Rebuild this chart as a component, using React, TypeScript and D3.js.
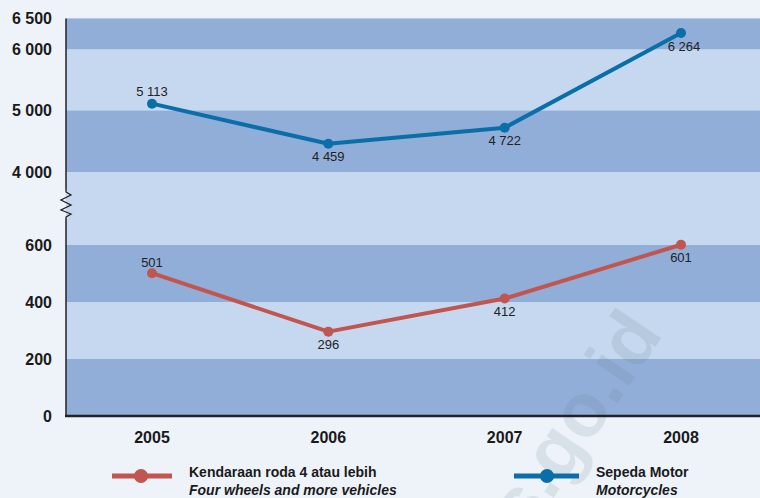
import React from "react";
import * as d3 from "d3";

const years = ["2005", "2006", "2007", "2008"];
const motorcycles = [5113, 4459, 4722, 6264];
const fourWheels = [501, 296, 412, 601];
const upperTicks = [4000, 5000, 6000, 6500];
const lowerTicks = [0, 200, 400, 600];
const upperBands = [[4000, 5000], [6000, 6500]];
const lowerBands = [[0, 200], [400, 600]];
const motorLabelPos = ["above", "below", "below", "below"];
const carLabelPos = ["above", "below", "below", "below"];

const W = 760, H = 498;
const BG = "#eef3fa";
const DARK = "#91aed8";
const LIGHT = "#c6d8ef";
const RED = "#c0564f";
const BLUE = "#0a6ea8";

const fmt = (v: number) => {
  const s = String(v);
  return s.length > 3 ? s.slice(0, s.length - 3) + " " + s.slice(-3) : s;
};

export default function App() {
  const left = 66, right = 760;
  const x = d3.scalePoint<string>().domain(years).range([152, 681]);
  const yU = d3.scaleLinear().domain([4000, 6500]).range([172, 18.5]);
  const yL = d3.scaleLinear().domain([0, 600]).range([416, 245]);

  const line = d3.line<[number, number]>().x(d => d[0]).y(d => d[1]);
  const motorPts: [number, number][] = motorcycles.map((v, i) => [x(years[i])!, yU(v)]);
  const carPts: [number, number][] = fourWheels.map((v, i) => [x(years[i])!, yL(v)]);

  const zig = "M66,190 L66,192 L71,195 L61,200 L71,205 L61,210 L71,214 L66,217 L66,219";

  return (
    <svg width={W} height={H} style={{ position: "absolute", left: 0, top: 0, background: BG }}
      fontFamily="'Liberation Sans', Arial, sans-serif">
      <defs>
        <clipPath id="pageClip"><rect x={0} y={0} width={W} height={H} /></clipPath>
      </defs>
      <rect x={0} y={0} width={W} height={H} fill={BG} />
      {/* plot background */}
      <rect x={left} y={yU(6500)} width={right - left} height={yL(0) - yU(6500)} fill={LIGHT} />
      {upperBands.map((b, i) => (
        <rect key={"ub" + i} x={left} y={yU(b[1])} width={right - left} height={yU(b[0]) - yU(b[1])} fill={DARK} />
      ))}
      {lowerBands.map((b, i) => (
        <rect key={"lb" + i} x={left} y={yL(b[1])} width={right - left} height={yL(b[0]) - yL(b[1])} fill={DARK} />
      ))}
      {/* watermark */}
      <g clipPath="url(#pageClip)">
        <text transform="translate(664,334) rotate(-56)" textAnchor="end" fontSize={76} fontWeight="bold"
          fill="#6b7a90" fillOpacity={0.16}>bps.go.id</text>
      </g>
      {/* axes */}
      <line x1={left} x2={left} y1={yU(6500)} y2={190} stroke="#222" strokeWidth={1.5} />
      <path d={zig} fill="none" stroke="#222" strokeWidth={1.3} />
      <line x1={left} x2={left} y1={219} y2={yL(0)} stroke="#222" strokeWidth={1.5} />
      <line x1={left - 1} x2={right} y1={yL(0)} y2={yL(0)} stroke="#222" strokeWidth={2.5} />
      {upperTicks.map(t => (
        <text key={"u" + t} x={52} y={yU(t)} dy="0.35em" textAnchor="end" fontSize={16} fontWeight="bold" fill="#1a1a1a">{fmt(t)}</text>
      ))}
      {lowerTicks.map(t => (
        <text key={"l" + t} x={52} y={yL(t)} dy="0.35em" textAnchor="end" fontSize={16} fontWeight="bold" fill="#1a1a1a">{fmt(t)}</text>
      ))}
      {years.map(yr => (
        <text key={yr} x={x(yr)} y={437} dy="0.35em" textAnchor="middle" fontSize={16} fontWeight="bold" fill="#1a1a1a">{yr}</text>
      ))}
      {/* lines */}
      <path d={line(motorPts)!} fill="none" stroke={BLUE} strokeWidth={4} strokeLinejoin="round" />
      <path d={line(carPts)!} fill="none" stroke={RED} strokeWidth={4} strokeLinejoin="round" />
      {motorPts.map((p, i) => <circle key={"mc" + i} cx={p[0]} cy={p[1]} r={5} fill={BLUE} />)}
      {carPts.map((p, i) => <circle key={"cc" + i} cx={p[0]} cy={p[1]} r={5} fill={RED} />)}
      {motorPts.map((p, i) => (
        <text key={"ml" + i} x={p[0] + (i === 3 ? 3 : 0)} y={motorLabelPos[i] === "above" ? p[1] - 12 : p[1] + 13}
          dy="0.35em" textAnchor="middle" fontSize={13} fill="#222">{fmt(motorcycles[i])}</text>
      ))}
      {carPts.map((p, i) => (
        <text key={"cl" + i} x={p[0]} y={carLabelPos[i] === "above" ? p[1] - 11 : p[1] + 13}
          dy="0.35em" textAnchor="middle" fontSize={13} fill="#222">{fmt(fourWheels[i])}</text>
      ))}
      {/* legend */}
      <line x1={112} x2={172} y1={476} y2={476} stroke={RED} strokeWidth={5} />
      <circle cx={141} cy={476} r={7} fill={RED} />
      <text x={189} y={477} fontSize={14} fontWeight="bold" fill="#1a1a1a">Kendaraan roda 4 atau lebih</text>
      <text x={189} y={495} fontSize={14} fontWeight="bold" fontStyle="italic" fill="#1a1a1a">Four wheels and more vehicles</text>
      <line x1={514} x2={579} y1={476} y2={476} stroke={BLUE} strokeWidth={5} />
      <circle cx={547} cy={476} r={7} fill={BLUE} />
      <text x={596} y={477} fontSize={14} fontWeight="bold" fill="#1a1a1a">Sepeda Motor</text>
      <text x={596} y={495} fontSize={14} fontWeight="bold" fontStyle="italic" fill="#1a1a1a">Motorcycles</text>
    </svg>
  );
}
